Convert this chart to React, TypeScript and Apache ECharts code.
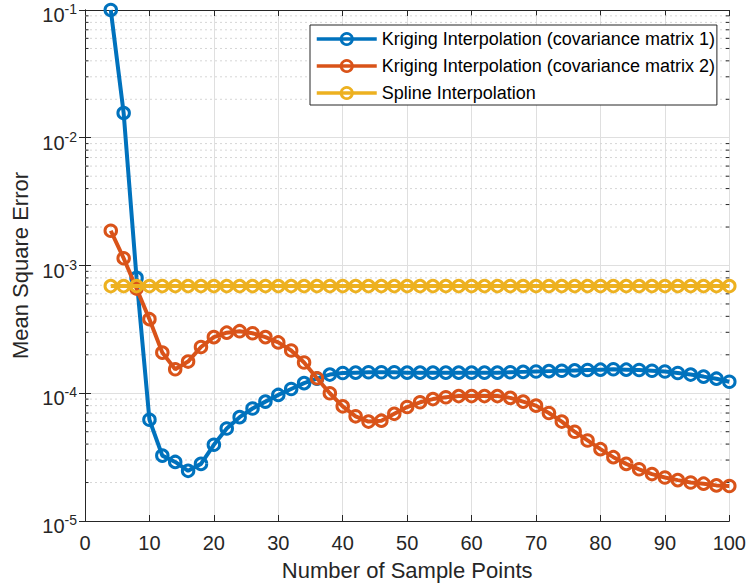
import React, { useEffect, useRef } from "react";
import * as echarts from "echarts";

const sampleCounts = [
  4, 6, 8, 10, 12, 14, 16, 18, 20, 22, 24, 26, 28, 30, 32, 34, 36, 38, 40, 42,
  44, 46, 48, 50, 52, 54, 56, 58, 60, 62, 64, 66, 68, 70, 72, 74, 76, 78, 80, 82,
  84, 86, 88, 90, 92, 94, 96, 98, 100,
];

const krigingCov1 = [
  0.1, 0.0156, 8.0e-4, 6.2e-5, 3.25e-5, 2.9e-5, 2.47e-5, 2.8e-5, 3.95e-5, 5.3e-5,
  6.5e-5, 7.6e-5, 8.6e-5, 9.7e-5, 1.08e-4, 1.2e-4, 1.3e-4, 1.4e-4, 1.44e-4, 1.45e-4,
  1.46e-4, 1.46e-4, 1.46e-4, 1.45e-4, 1.45e-4, 1.45e-4, 1.45e-4, 1.45e-4, 1.45e-4, 1.45e-4,
  1.45e-4, 1.46e-4, 1.47e-4, 1.48e-4, 1.49e-4, 1.5e-4, 1.51e-4, 1.52e-4, 1.53e-4, 1.54e-4,
  1.53e-4, 1.52e-4, 1.5e-4, 1.48e-4, 1.44e-4, 1.4e-4, 1.35e-4, 1.3e-4, 1.23e-4,
];

const krigingCov2 = [
  1.87e-3, 1.14e-3, 6.6e-4, 3.8e-4, 2.08e-4, 1.54e-4, 1.77e-4, 2.3e-4, 2.75e-4, 2.98e-4,
  3.06e-4, 2.95e-4, 2.75e-4, 2.5e-4, 2.16e-4, 1.74e-4, 1.31e-4, 1.0e-4, 7.9e-5, 6.6e-5,
  6.0e-5, 6.1e-5, 6.9e-5, 7.8e-5, 8.5e-5, 9.0e-5, 9.3e-5, 9.5e-5, 9.5e-5, 9.5e-5,
  9.5e-5, 9.2e-5, 8.6e-5, 8.0e-5, 7.0e-5, 6.0e-5, 5.0e-5, 4.27e-5, 3.65e-5, 3.16e-5,
  2.8e-5, 2.54e-5, 2.33e-5, 2.19e-5, 2.09e-5, 2.0e-5, 1.96e-5, 1.9e-5, 1.88e-5,
];

const splineErr = [
  6.9e-4, 6.9e-4, 6.9e-4, 6.9e-4, 6.9e-4, 6.9e-4, 6.9e-4, 6.9e-4, 6.9e-4, 6.9e-4,
  6.9e-4, 6.9e-4, 6.9e-4, 6.9e-4, 6.9e-4, 6.9e-4, 6.9e-4, 6.9e-4, 6.9e-4, 6.9e-4,
  6.9e-4, 6.9e-4, 6.9e-4, 6.9e-4, 6.9e-4, 6.9e-4, 6.9e-4, 6.9e-4, 6.9e-4, 6.9e-4,
  6.9e-4, 6.9e-4, 6.9e-4, 6.9e-4, 6.9e-4, 6.9e-4, 6.9e-4, 6.9e-4, 6.9e-4, 6.9e-4,
  6.9e-4, 6.9e-4, 6.9e-4, 6.9e-4, 6.9e-4, 6.9e-4, 6.9e-4, 6.9e-4, 6.9e-4,
];

const seriesNames = [
  "Kriging Interpolation (covariance matrix 1)",
  "Kriging Interpolation (covariance matrix 2)",
  "Spline Interpolation",
];
const seriesColors = ["#0072BD", "#D95319", "#EDB120"];

const decades = [1e-5, 1e-4, 1e-3, 1e-2];
const minorMultipliers = [2, 3, 4, 5, 6, 7, 8, 9];
const minorTicks: number[] = [];
decades.forEach((d) => minorMultipliers.forEach((m) => minorTicks.push(d * m)));

const FONT = "'Liberation Sans', Arial, Helvetica, sans-serif";
const AXIS_COLOR = "#262626";

export default function App() {
  const ref = useRef<HTMLDivElement>(null);
  useEffect(() => {
    if (!ref.current) return;
    const chart = echarts.init(ref.current, null, { renderer: "svg" });
    const allValues = [krigingCov1, krigingCov2, splineErr];

    const lineSeries = allValues.map((vals, i) => ({
      type: "line",
      name: seriesNames[i],
      data: sampleCounts.map((x, k) => [x, vals[k]]),
      symbol: "circle",
      symbolSize: 11.5,
      showSymbol: true,
      clip: false,
      z: 3 + i,
      lineStyle: { color: seriesColors[i], width: 4 },
      itemStyle: {
        color: "rgba(255,255,255,0)",
        borderColor: seriesColors[i],
        borderWidth: 3,
      },
      emphasis: { disabled: true },
    }));

    const minorSeries = {
      type: "custom",
      name: "minor",
      silent: true,
      z: 1,
      data: minorTicks.map((v) => [0, v]),
      renderItem: (params: any, api: any) => {
        const v = api.value(1);
        const y = api.coord([0, v])[1];
        const cs = params.coordSys;
        return {
          type: "group",
          children: [
            {
              type: "line",
              shape: { x1: cs.x, y1: y, x2: cs.x + cs.width, y2: y },
              style: { stroke: "#d6d6d6", lineWidth: 1, lineDash: [2, 3] },
            },
            {
              type: "line",
              shape: { x1: cs.x, y1: y, x2: cs.x + 3.5, y2: y },
              style: { stroke: AXIS_COLOR, lineWidth: 1 },
            },
            {
              type: "line",
              shape: { x1: cs.x + cs.width - 3.5, y1: y, x2: cs.x + cs.width, y2: y },
              style: { stroke: AXIS_COLOR, lineWidth: 1 },
            },
          ],
        };
      },
    };

    const yLabelFormatter = (v: number) => {
      const e = Math.round(Math.log10(v));
      return `{b|10}{e|${e}}`;
    };

    chart.setOption({
      animation: false,
      backgroundColor: "#ffffff",
      textStyle: { fontFamily: FONT },
      grid: { left: 85, right: 17, top: 10, bottom: 66, containLabel: false },
      legend: {
        data: seriesNames,
        orient: "vertical",
        left: 310,
        top: 25,
        itemWidth: 60,
        itemHeight: 14,
        itemGap: 9,
        padding: [5, 2, 3, 5],
        borderColor: AXIS_COLOR,
        borderWidth: 1,
        backgroundColor: "#ffffff",
        selectedMode: false,
        lineStyle: { width: 3.5 },
        itemStyle: { borderWidth: 2.8 },
        textStyle: { fontSize: 18, color: "#000000", fontFamily: FONT },
      },
      xAxis: [
        {
          type: "value",
          min: 0,
          max: 100,
          interval: 10,
          name: "Number of Sample Points",
          nameLocation: "middle",
          nameGap: 38,
          nameTextStyle: { fontSize: 22, color: AXIS_COLOR, fontFamily: FONT },
          axisLine: { show: true, lineStyle: { color: AXIS_COLOR, width: 1 } },
          axisTick: { show: true, inside: true, length: 6, lineStyle: { color: AXIS_COLOR } },
          axisLabel: { fontSize: 20, color: AXIS_COLOR, margin: 12, fontFamily: FONT },
          splitLine: { show: true, lineStyle: { color: "#dfdfdf", width: 1 } },
        },
        {
          type: "value",
          position: "top",
          min: 0,
          max: 100,
          interval: 10,
          axisLine: { show: true, onZero: false, lineStyle: { color: AXIS_COLOR, width: 1 } },
          axisTick: { show: true, inside: true, length: 6, lineStyle: { color: AXIS_COLOR } },
          axisLabel: { show: false },
          splitLine: { show: false },
        },
      ],
      yAxis: [
        {
          type: "log",
          logBase: 10,
          min: 1e-5,
          max: 1e-1,
          name: "Mean Square Error",
          nameLocation: "middle",
          nameGap: 54,
          nameTextStyle: { fontSize: 22, color: AXIS_COLOR, fontFamily: FONT },
          axisLine: { show: true, lineStyle: { color: AXIS_COLOR, width: 1 } },
          axisTick: { show: true, inside: true, length: 6, lineStyle: { color: AXIS_COLOR } },
          axisLabel: {
            margin: 8,
            color: AXIS_COLOR,
            formatter: yLabelFormatter,
            rich: {
              b: { fontSize: 20, color: AXIS_COLOR, fontFamily: FONT, padding: [10, 0, 0, 0] },
              e: { fontSize: 14, color: AXIS_COLOR, fontFamily: FONT, padding: [0, 0, 2, 0] },
            },
          },
          splitLine: { show: true, lineStyle: { color: "#dfdfdf", width: 1 } },
        },
        {
          type: "log",
          logBase: 10,
          min: 1e-5,
          max: 1e-1,
          position: "right",
          axisLine: { show: true, lineStyle: { color: AXIS_COLOR, width: 1 } },
          axisTick: { show: true, inside: true, length: 6, lineStyle: { color: AXIS_COLOR } },
          axisLabel: { show: false },
          splitLine: { show: false },
        },
      ],
      series: [minorSeries, ...lineSeries],
    });
    return () => chart.dispose();
  }, []);

  return (
    <div
      ref={ref}
      style={{ position: "fixed", left: 0, top: 0, width: 749, height: 587 }}
    />
  );
}
